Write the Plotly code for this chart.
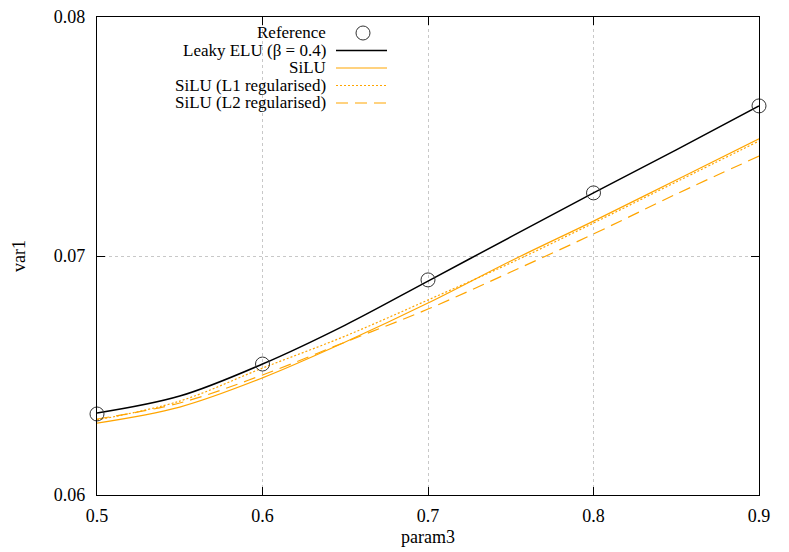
import plotly.graph_objects as go

# Data
param3 = [0.5, 0.55, 0.6, 0.65, 0.7, 0.75, 0.8, 0.85, 0.9]

ref_x = [0.5, 0.6, 0.7, 0.8, 0.9]
ref_y = [0.06339, 0.06548, 0.06900, 0.07264, 0.07628]

leaky_elu = [0.06343, 0.06414, 0.06548, 0.06711, 0.06895, 0.07080, 0.07264, 0.07444, 0.07628]
silu = [0.06301, 0.06368, 0.06490, 0.06640, 0.06803, 0.06979, 0.07146, 0.07318, 0.07490]
silu_l1 = [0.06314, 0.06393, 0.06531, 0.06665, 0.06816, 0.06971, 0.07138, 0.07310, 0.07481]
silu_l2 = [0.06318, 0.06385, 0.06502, 0.06640, 0.06778, 0.06933, 0.07092, 0.07259, 0.07418]

ORANGE = '#FFA500'
FONT = 'Liberation Serif'
FS = 18
KEY_FS = 17

# page body has an 8px margin, so the figure sits 8px in from the window
OFF = 8
W, H = 789 - OFF, 552 - OFF
# plot area in window pixels (used to place the gnuplot style key and titles)
L, R, T, B = 97, 759, 17, 495


def px(x):
    return (x - L) / (R - L)


def py(y):
    return (B - y) / (B - T)


fig = go.Figure()

curves = [
    ('Leaky ELU (β = 0.4)', leaky_elu, 'black', 'solid', 1.5),
    ('SiLU', silu, ORANGE, 'solid', 1.2),
    ('SiLU (L1 regularised)', silu_l1, ORANGE, '2px,2px', 1.2),
    ('SiLU (L2 regularised)', silu_l2, ORANGE, '12px,7px', 1.2),
]

for name, ys, color, dash, width in curves:
    fig.add_trace(go.Scatter(
        x=param3, y=ys, name=name, mode='lines',
        line=dict(color=color, dash=dash, width=width, shape='spline', smoothing=1.0),
        showlegend=False
    ))

fig.add_trace(go.Scatter(
    x=ref_x, y=ref_y, name='Reference', mode='markers',
    marker=dict(symbol='circle-open', size=14, color='#333333', line=dict(width=1)),
    cliponaxis=False, showlegend=False
))

# key: right-aligned text followed by a sample, like gnuplot
key_rows = [
    ('Reference', 33, None),
    ('Leaky ELU (β = 0.4)', 50.5, ('black', 'solid', 1.5)),
    ('SiLU', 68, (ORANGE, 'solid', 1.2)),
    ('SiLU (L1 regularised)', 85.5, (ORANGE, '2px,2px', 1.2)),
    ('SiLU (L2 regularised)', 103, (ORANGE, '12px,7px', 1.2)),
]
for text, ypix, style in key_rows:
    fig.add_annotation(
        x=px(328), y=py(ypix), xref='paper', yref='paper', text=text,
        showarrow=False, xanchor='right', yanchor='middle',
        font=dict(family=FONT, size=KEY_FS, color='black')
    )
    if style is None:
        fig.add_shape(
            type='circle', xref='paper', yref='paper',
            xsizemode='pixel', ysizemode='pixel',
            xanchor=px(363), yanchor=py(ypix),
            x0=-7, x1=7, y0=-7, y1=7,
            line=dict(color='#333333', width=1)
        )
    else:
        color, dash, width = style
        fig.add_shape(
            type='line', xref='paper', yref='paper',
            x0=px(336), x1=px(387), y0=py(ypix), y1=py(ypix),
            line=dict(color=color, dash=dash, width=width)
        )

# axis titles
fig.add_annotation(
    x=px(428), y=py(537), xref='paper', yref='paper', text='param3',
    showarrow=False, xanchor='center', yanchor='middle',
    font=dict(family=FONT, size=FS, color='black')
)
fig.add_annotation(
    x=px(19), y=py(256), xref='paper', yref='paper', text='var1', textangle=-90,
    showarrow=False, xanchor='center', yanchor='middle',
    font=dict(family=FONT, size=FS, color='black')
)

axis_common = dict(
    showline=True, linecolor='black', linewidth=1.2, mirror='ticks',
    ticks='inside', ticklen=8, tickwidth=1, tickcolor='black',
    showgrid=True, gridcolor='#c8c8c8', griddash='dot', gridwidth=1,
    zeroline=False, ticklabeloverflow='allow', automargin=False,
    tickfont=dict(family=FONT, size=FS, color='black'),
)

fig.update_layout(
    width=W, height=H,
    margin=dict(l=L - OFF, r=789 - R, t=T - OFF, b=552 - B),
    plot_bgcolor='white', paper_bgcolor='white',
    font=dict(family=FONT, size=FS, color='black'),
    xaxis=dict(
        range=[0.5, 0.9], tickvals=[0.5, 0.6, 0.7, 0.8, 0.9],
        ticktext=['0.5', '0.6', '0.7', '0.8', '0.9'],
        ticklabelstandoff=4,
        **axis_common
    ),
    yaxis=dict(
        range=[0.06, 0.08], tickvals=[0.06, 0.07, 0.08],
        ticktext=['0.06', '0.07', '0.08'],
        ticklabelstandoff=7,
        **axis_common
    ),
)

fig.write_html("out.html")
